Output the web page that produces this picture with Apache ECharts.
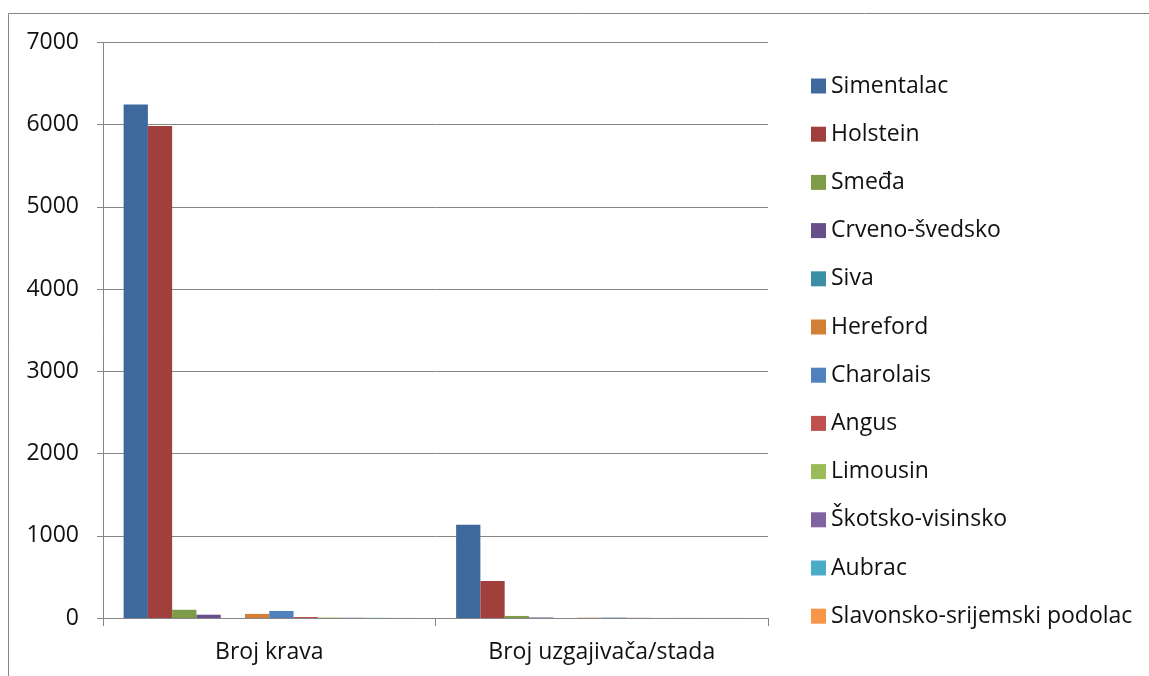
<!DOCTYPE html>
<html>
<head>
<meta charset="utf-8">
<script src="https://cdn.jsdelivr.net/npm/echarts@6/dist/echarts.min.js"></script>
<style>
    html, body { margin: 0; padding: 0; background: #fff; }
    #main { width: 1149px; height: 676px; }
</style>
</head>
<body>
<div id="main"></div>
<script>
    // kategorije na x osi
    var categories = ['Broj krava', 'Broj uzgajivača/stada'];
    // pasmine (serije)
    var breeds = ['Simentalac', 'Holstein', 'Smeđa', 'Crveno-švedsko', 'Siva', 'Hereford',
        'Charolais', 'Angus', 'Limousin', 'Škotsko-visinsko', 'Aubrac', 'Slavonsko-srijemski podolac'];
    // vrijednosti: [broj krava, broj uzgajivača]
    var simentalac = [6245, 1135];
    var holstein = [5985, 450];
    var smeda = [100, 25];
    var crvenoSvedsko = [40, 6];
    var siva = [0, 0];
    var hereford = [50, 4];
    var charolais = [85, 5];
    var angus = [12, 2];
    var limousin = [6, 1];
    var skotsko = [3, 1];
    var aubrac = [2, 1];
    var podolac = [1, 1];
    var yTicks = [0, 1000, 2000, 3000, 4000, 5000, 6000, 7000];

    var values = [simentalac, holstein, smeda, crvenoSvedsko, siva, hereford,
        charolais, angus, limousin, skotsko, aubrac, podolac];
    var colors = ['#3E699C', '#A03F3C', '#7E9B47', '#67508A', '#3A8EA5', '#D47F36',
        '#4F81BD', '#C0504D', '#9BBB59', '#8064A2', '#4BACC6', '#F79646'];

    var font = 'Open Sans';
    var gray = '#868686';

    var series = breeds.map(function (name, i) {
        return {
            name: name,
            type: 'bar',
            data: values[i],
            barGap: 0,
            barCategoryGap: '12.4%',
            itemStyle: { color: colors[i] }
        };
    });

    var myChart = echarts.init(document.getElementById('main'));
    myChart.setOption({
        animation: false,
        color: colors,
        textStyle: { fontFamily: font },
        graphic: [{
            type: 'rect',
            shape: { x: 8.5, y: 13.5, width: 1300, height: 800 },
            style: { fill: 'none', stroke: gray, lineWidth: 1 }
        }],
        grid: { left: 103, right: 381, top: 42.5, bottom: 58 },
        legend: {
            orient: 'vertical',
            left: 806,
            top: 69,
            itemWidth: 15,
            itemHeight: 15,
            itemGap: 24.2,
            icon: 'rect',
            textStyle: { fontFamily: font, fontSize: 23, color: '#111', lineHeight: 24 },
            data: breeds
        },
        xAxis: {
            type: 'category',
            data: categories,
            axisLine: { lineStyle: { color: gray, width: 1 } },
            axisTick: { show: true, length: 8, lineStyle: { color: gray } },
            axisLabel: { margin: 23, fontSize: 23, color: '#111', fontFamily: font }
        },
        yAxis: {
            type: 'value',
            min: yTicks[0],
            max: yTicks[yTicks.length - 1],
            interval: 1000,
            axisLine: { show: true, lineStyle: { color: gray, width: 1 } },
            axisTick: { show: true, length: 6, lineStyle: { color: gray } },
            axisLabel: {
                margin: 24, fontSize: 23, color: '#111', fontFamily: font,
                formatter: function (v) { return String(v); }
            },
            splitLine: { lineStyle: { color: gray, width: 1 } }
        },
        series: series
    });
</script>
</body>
</html>
